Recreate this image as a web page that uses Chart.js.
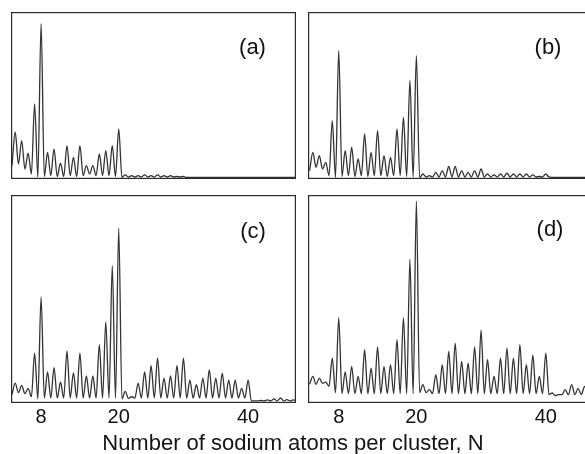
<!DOCTYPE html>
<html>
<head>
<meta charset="utf-8">
<script src="https://cdn.jsdelivr.net/npm/chart.js@4"></script>
<style>
  html, body { margin:0; padding:0; background:#fff; width:585px; height:454px; overflow:hidden; }
  body { position:relative; }
  canvas { position:absolute; }
  #xtitle { position:absolute; left:0; width:586px; top:429px; text-align:center;
            font-family:"Liberation Sans", Arial, sans-serif; font-size:22px; color:#151515; line-height:28px; }
</style>
</head>
<body>
<canvas id="ca" width="285" height="167" style="left:11px;top:12px"></canvas>
<canvas id="cb" width="285" height="167" style="left:308px;top:12px"></canvas>
<canvas id="cc" width="285" height="236" style="left:11px;top:195px"></canvas>
<canvas id="cd" width="285" height="236" style="left:308px;top:195px"></canvas>
<div id="xtitle">Number of sodium atoms per cluster, N</div>
<script>
// cluster sizes N at which mass peaks occur
const clusterSizes = [4,5,6,7,8,9,10,11,12,13,14,15,16,17,18,19,20,21,22,23,24,25,26,27,28,29,30,31,32,33,34,35,36,37,38,39,40,41,42,43,44,45,46,47];
const xTickLabels = [8, 20, 40];
const panelLabels = ['(a)', '(b)', '(c)', '(d)'];

// peak intensities (relative, % of panel height) at each N
const peaksA = [28,23,15.5,45,93,16,18,9.5,20,13,20,8,8,15,17,20,30,
                2.5,2,2,2.5,2,2.5,2,2,1.5,1.5,
                1,1,1,1,1,1,1,1,1,1,1,1,1,1,1,1,1];
// valley intensities between peaks, at N = 3.5, 4.5, ... 47.5
const valleysA = [8,9,6,3,1.2,1.5,2,1.5,1.5,2,1.5,2,3,2,2,2,1.5,1,
                  1.2,1.2,1.2,1.2,1.2,1.2,1.2,1.2,1.2,
                  0.9,0.9,0.9,0.9,0.9,0.9,0.9,0.9,0.9,0.9,0.9,0.9,0.9,0.9,0.9,0.9,0.9,0.9];

const peaksB = [16,14,10,35,77,17,19,12,27,16,29,14,13,30,37,59,74,
                3,2,4,5,7.5,7.5,5,4,5,6,3,2.5,3,3.5,3,3,3,2.5,1.5,3,
                1,1,1,1,1,1,1];
const valleysB = [5,7,6,2,1,1.5,2,1.5,2,1.5,2,2,1.5,2,2,1.5,1.2,0.8,
                  1.2,1.2,1.2,1.2,1.2,1.2,1.2,1.2,1.2,1.2,1.2,1.2,1.2,1.2,1.2,1.2,1.2,1.2,1.2,1.2,
                  0.9,0.9,0.9,0.9,0.9,0.9,0.9];

const peaksC = [9.6,8.5,7,24,51,15,17,10,25,14.5,24,13,13,28,39,66,84,
                5.6,3,9.6,15,18,21.6,12,13,18,21.6,11,8.8,12,16,12,14.4,11,11,7,11,
                1,1.2,1.5,2,2.4,1.6,1.5];
const valleysC = [4,5,4.5,3,2,2.4,2.4,2.4,2.4,2.4,2.4,2.4,2.4,2.4,2.4,2.4,2.4,2,2.2,
                  2.4,2.4,2.4,2.4,2.4,2.4,2.4,2.4,2.4,2.4,2.4,2.4,2.4,2.4,2.4,2.4,2.4,2.4,
                  1,1,1,1,1,1,1,1];

const peaksD = [12.8,12,10,21.6,41,15,17.6,12.8,25.6,16.8,27,17.6,18.4,30.4,41,69,97,
                8.8,6.4,13.6,18.4,24.8,28.8,20,19.2,27,35,20.8,12.8,21.6,26.4,21.6,28,18.4,23,12.8,24,
                4.8,4,6.4,8.8,7,8,6];
const valleysD = [9,9,9.5,8,5,4.5,4.5,4.5,4.5,4.5,4.5,4.5,4.5,4.5,4.5,4.5,4.5,5,5,
                  4.5,4.5,4.5,4.5,4.5,4.5,4.5,4.5,4.5,4.5,4.5,4.5,4.5,4.5,4.5,4.5,4.5,4.5,
                  4,3.5,4,4,4,4,4,4];

function buildSeries(peaks, valleys) {
  const pts = [];
  pts.push({x: clusterSizes[0] - 0.5, y: valleys[0]});
  clusterSizes.forEach((n, i) => {
    pts.push({x: n, y: peaks[i]});
    pts.push({x: n + 0.5, y: valleys[i + 1]});
  });
  return pts;
}

const boxPlugin = {
  id: 'box',
  afterDraw(chart, args, opts) {
    const {ctx, chartArea: a} = chart;
    ctx.save();
    ctx.strokeStyle = '#2a2a2a';
    ctx.lineWidth = 1.2;
    ctx.strokeRect(a.left + 0.6, a.top + 0.6, a.right - a.left - 1.2, a.bottom - a.top - 1.2);
    ctx.fillStyle = '#111';
    ctx.font = '22px "Liberation Sans", Arial, sans-serif';
    ctx.textAlign = 'center';
    ctx.textBaseline = 'alphabetic';
    ctx.fillText(opts.label, a.left + opts.lx, a.top + opts.ly);
    ctx.restore();
  }
};

function makeChart(id, peaks, valleys, xmin, label, lx, ly, showTicks) {
  new Chart(document.getElementById(id), {
    type: 'line',
    data: {
      datasets: [{
        data: buildSeries(peaks, valleys),
        borderColor: '#333333',
        borderWidth: 1.3,
        pointRadius: 0,
        cubicInterpolationMode: 'monotone',
        fill: false
      }]
    },
    options: {
      responsive: false,
      animation: false,
      devicePixelRatio: 1,
      layout: { padding: 0 },
      plugins: { legend: { display: false }, tooltip: { enabled: false },
                 box: { label: label, lx: lx, ly: ly } },
      scales: {
        x: {
          type: 'linear',
          min: xmin, max: xmin + 44.05,
          display: showTicks,
          grid: { display: false, drawTicks: false },
          border: { display: false },
          afterBuildTicks: (axis) => { axis.ticks = xTickLabels.map(v => ({value: v})); },
          ticks: { autoSkip: false, maxRotation: 0, padding: 2, color: '#111',
                   font: { family: '"Liberation Sans", Arial, sans-serif', size: 20 } }
        },
        y: { min: 0, max: 100, display: false }
      }
    },
    plugins: [boxPlugin]
  });
}

makeChart('ca', peaksA, valleysA, 3.35, panelLabels[0], 241.5, 41.5, false);
makeChart('cb', peaksB, valleysB, 3.25, panelLabels[1], 240, 41.5, false);
makeChart('cc', peaksC, valleysC, 3.35, panelLabels[2], 242, 42.5, true);
makeChart('cd', peaksD, valleysD, 3.25, panelLabels[3], 242, 41, true);
</script>
</body>
</html>
